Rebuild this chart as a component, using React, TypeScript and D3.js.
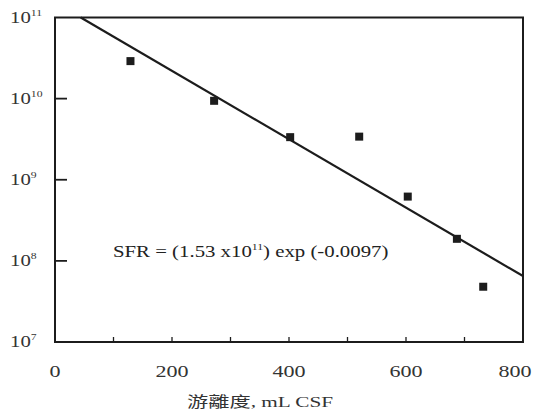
import React from "react";
import * as d3 from "d3";

const xMajorTicks = [0, 200, 400, 600, 800];
const xMinorTicks = [100, 200, 300, 400, 500, 600, 700];
const yDecades = [7, 8, 9, 10, 11];
const yInnerTicks = [1e8, 1e9, 1e10];

const freeness = [129, 272, 402, 520, 603, 687, 732];
const sfr = [2.9e10, 9.4e9, 3.35e9, 3.4e9, 6.2e8, 1.87e8, 4.8e7];

const fitX = [44, 800];
const fitY = [1e11, 6.5e7];

const W = 534;
const H = 409;
const serif = "'Liberation Serif', 'DejaVu Serif', serif";

export default function App() {
  const x = d3.scaleLinear().domain([0, 800]).range([55, 523]);
  const y = d3.scaleLog().domain([1e7, 1e11]).range([342, 17.5]);
  const ink = "#1c1c1c";
  const fitPts: [number, number][] = fitX.map((v, i) => [x(v), y(fitY[i])]);
  const line = d3.line()(fitPts) || "";
  const sx = 1.3;

  return (
    <svg
      width={W}
      height={H}
      style={{ position: "absolute", left: 0, top: 0, background: "#fff" }}
    >
      <rect x={0} y={0} width={W} height={H} fill="#fff" />
      {/* frame */}
      <rect
        x={x(0)}
        y={y(1e11)}
        width={x(800) - x(0)}
        height={y(1e7) - y(1e11)}
        fill="none"
        stroke={ink}
        strokeWidth={2}
      />
      {/* y inner ticks */}
      {yInnerTicks.map((t) => (
        <line key={t} x1={x(0)} x2={x(0) + 12} y1={y(t)} y2={y(t)} stroke={ink} strokeWidth={1.8} />
      ))}
      {/* x minor ticks */}
      {xMinorTicks.map((t) => (
        <line key={t} x1={x(t)} x2={x(t)} y1={y(1e7)} y2={y(1e7) - 5} stroke={ink} strokeWidth={1.3} />
      ))}
      {/* y labels */}
      {yDecades.map((d) => (
        <g key={d} transform={`translate(10, ${y(Math.pow(10, d)) + 5}) scale(${sx},1)`}>
          <text x={0} y={0} fontFamily={serif} fontSize={16} fill="#333">
            10
            <tspan fontSize={9} dy={-7}>{d}</tspan>
          </text>
        </g>
      ))}
      {/* x labels */}
      {xMajorTicks.map((t) => (
        <g key={t} transform={`translate(${Math.min(x(t), 515)}, 377) scale(${sx},1)`}>
          <text x={0} y={0} textAnchor="middle" fontFamily={serif} fontSize={17} fill="#333">
            {t}
          </text>
        </g>
      ))}
      {/* x title */}
      <text
        x={187}
        y={407}
        fontFamily={"'Liberation Serif', 'Noto Sans CJK TC', serif"}
        fontSize={15}
        fill="#333"
        textLength={146}
        lengthAdjust="spacingAndGlyphs"
      >
        游離度, mL CSF
      </text>
      {/* fit line */}
      <path d={line} fill="none" stroke={ink} strokeWidth={2.2} />
      {/* points */}
      {freeness.map((f, i) => (
        <rect
          key={i}
          x={x(f) - 4}
          y={y(sfr[i]) - 4}
          width={8}
          height={8}
          fill={ink}
        />
      ))}
      {/* equation */}
      <g transform={`translate(113, 257) scale(${sx},1)`}>
        <text x={0} y={0} fontFamily={serif} fontSize={16} fill="#222">
          SFR = (1.53 x10
          <tspan fontSize={9} dy={-7}>11</tspan>
          <tspan dy={7}>) exp (-0.0097)</tspan>
        </text>
      </g>
    </svg>
  );
}
